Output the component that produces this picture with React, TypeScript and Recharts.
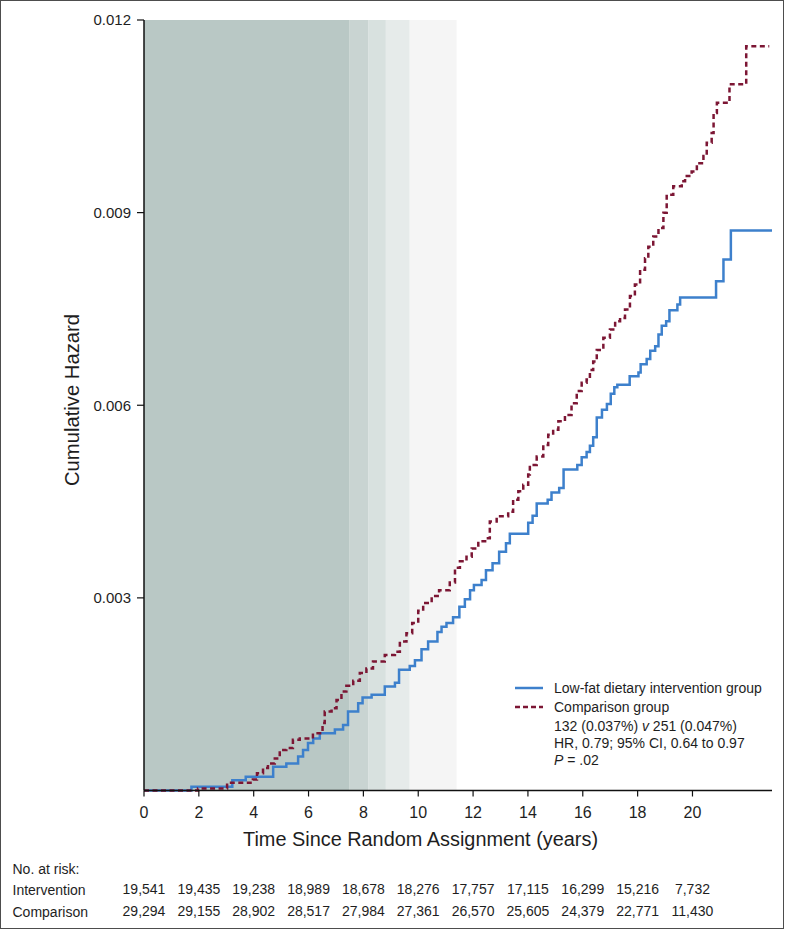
import React from 'react';
import { LineChart, Line, XAxis, YAxis, ReferenceArea, Legend } from 'recharts';

// ---- data ----
const interventionTimes = [0, 1.73, 3.22, 3.71, 4.71, 5.19, 5.62, 5.8, 5.98, 6.17, 6.41, 6.96, 7.26, 7.44, 7.81, 7.97, 8.3, 8.78, 9.15, 9.3, 9.69, 9.88, 10.12, 10.36, 10.7, 10.85, 11.03, 11.27, 11.5, 11.7, 11.89, 12.03, 12.31, 12.47, 12.71, 12.95, 13.2, 13.34, 14.01, 14.17, 14.32, 14.72, 14.86, 15.14, 15.3, 15.8, 15.96, 16.14, 16.26, 16.38, 16.51, 16.7, 16.88, 17.02, 17.15, 17.26, 17.71, 18.03, 18.11, 18.33, 18.46, 18.64, 18.76, 18.88, 19.04, 19.16, 19.45, 19.55, 20.86, 21.13, 21.4, 22.9];
const interventionHazard = [0, 0.00006, 0.00016, 0.000215, 0.00037, 0.00042, 0.00053, 0.00063, 0.00074, 0.00081, 0.00089, 0.00095, 0.00102, 0.00123, 0.00136, 0.00145, 0.00149, 0.00162, 0.00168, 0.00188, 0.00194, 0.00203, 0.0022, 0.00232, 0.00247, 0.00255, 0.00261, 0.0027, 0.00286, 0.00298, 0.00312, 0.0032, 0.00328, 0.00343, 0.00354, 0.00372, 0.00385, 0.004, 0.00417, 0.00428, 0.00447, 0.00453, 0.00464, 0.00471, 0.005, 0.00507, 0.00519, 0.00527, 0.00537, 0.0055, 0.00581, 0.00593, 0.00602, 0.00618, 0.00628, 0.00632, 0.00645, 0.00651, 0.00664, 0.00672, 0.00685, 0.00692, 0.0071, 0.00724, 0.00731, 0.00748, 0.00757, 0.00768, 0.00793, 0.00827, 0.00872, 0.00872];

const comparisonTimes = [0, 1.97, 3.03, 3.97, 4.12, 4.34, 4.52, 4.77, 4.95, 5.19, 5.43, 5.68, 6.16, 6.51, 6.59, 6.84, 7.02, 7.2, 7.38, 7.63, 7.87, 8.11, 8.35, 8.78, 9.15, 9.33, 9.57, 9.78, 10.0, 10.18, 10.49, 10.76, 11.15, 11.34, 11.52, 11.76, 11.95, 12.19, 12.49, 12.61, 12.86, 13.28, 13.46, 13.65, 13.83, 14.01, 14.07, 14.32, 14.56, 14.74, 14.92, 15.11, 15.35, 15.59, 15.78, 15.96, 16.14, 16.26, 16.38, 16.51, 16.75, 16.99, 17.18, 17.36, 17.54, 17.72, 17.9, 18.09, 18.27, 18.39, 18.57, 18.76, 18.94, 19.06, 19.3, 19.61, 19.73, 19.97, 20.16, 20.4, 20.52, 20.7, 20.77, 20.89, 21.35, 21.96, 22.8];
const comparisonHazard = [0, 0.00003, 0.00012, 0.00017, 0.00027, 0.00035, 0.00042, 0.0005, 0.00063, 0.00066, 0.00079, 0.00081, 0.00089, 0.00105, 0.00123, 0.00128, 0.00141, 0.00154, 0.00163, 0.00171, 0.00183, 0.0019, 0.00201, 0.00211, 0.00216, 0.00232, 0.00245, 0.00261, 0.0028, 0.00292, 0.00303, 0.00312, 0.00324, 0.00347, 0.00357, 0.00364, 0.00377, 0.00388, 0.00393, 0.00419, 0.00427, 0.00434, 0.00453, 0.00466, 0.00476, 0.00492, 0.00507, 0.0052, 0.00538, 0.00554, 0.00562, 0.00575, 0.00585, 0.00603, 0.00622, 0.00635, 0.0064, 0.00655, 0.00668, 0.00686, 0.00705, 0.00718, 0.00731, 0.00736, 0.00749, 0.0077, 0.00788, 0.00811, 0.00829, 0.00847, 0.00863, 0.00876, 0.009, 0.00928, 0.00941, 0.00949, 0.00957, 0.00964, 0.00977, 0.00988, 0.01009, 0.01024, 0.01055, 0.01071, 0.011, 0.01159, 0.01159];

const xTicks = [0, 2, 4, 6, 8, 10, 12, 14, 16, 18, 20];
const yTicks = [0.003, 0.006, 0.009, 0.012];
const interventionAtRisk = ['19,541', '19,435', '19,238', '18,989', '18,678', '18,276', '17,757', '17,115', '16,299', '15,216', '7,732'];
const comparisonAtRisk = ['29,294', '29,155', '28,902', '28,517', '27,984', '27,361', '26,570', '25,605', '24,379', '22,771', '11,430'];
const shadeStarts = [0, 7.5, 8.19, 8.82, 9.69];
const shadeEnds = [7.5, 8.19, 8.82, 9.69, 11.4];

const seriesNames = ['Low-fat dietary intervention group', 'Comparison group'];

// ---- styles ----
const FONT = '"Liberation Sans", Arial, Helvetica, sans-serif';
const shadeColors = ['#b9c8c5', '#c9d4d2', '#d8e1df', '#e6ebea', '#f5f5f5'];
const BLUE = '#3d80cc';
const RED = '#7c1634';
const TEXT = '#1e1e1e';

const interventionData = interventionTimes.map((t, i) => ({ t, h: interventionHazard[i] }));
const comparisonData = comparisonTimes.map((t, i) => ({ t, h: comparisonHazard[i] }));

const XTick = (props: any) => {
  const { x, y, payload } = props;
  const idx = xTicks.indexOf(payload.value);
  return (
    <g fontFamily={FONT} fill={TEXT}>
      <text x={x} y={y} dy={19} textAnchor="middle" fontSize={16}>{payload.value}</text>
      <text x={x} y={y} dy={95} textAnchor="middle" fontSize={14}>{interventionAtRisk[idx]}</text>
      <text x={x} y={y} dy={117} textAnchor="middle" fontSize={14}>{comparisonAtRisk[idx]}</text>
    </g>
  );
};

const XLabel = (props: any) => {
  const { viewBox } = props;
  const y = viewBox.y;
  return (
    <g fontFamily={FONT} fill={TEXT}>
      <text x={420.5} y={y + 55} textAnchor="middle" fontSize={20} textLength={355} lengthAdjust="spacingAndGlyphs">
        Time Since Random Assignment (years)
      </text>
      <text x={12.5} y={y + 83} fontSize={14}>No. at risk:</text>
      <text x={12.5} y={y + 104} fontSize={14}>Intervention</text>
      <text x={12.5} y={y + 126} fontSize={14}>Comparison</text>
    </g>
  );
};

const YLabel = (props: any) => {
  const { viewBox } = props;
  const cx = viewBox.x - 12;
  const cy = 400;
  return (
    <text
      x={cx}
      y={cy}
      transform={`rotate(-90 ${cx} ${cy})`}
      textAnchor="middle"
      dominantBaseline="central"
      fontFamily={FONT}
      fontSize={20}
      fill={TEXT}
      textLength={172}
      lengthAdjust="spacingAndGlyphs"
    >
      Cumulative Hazard
    </text>
  );
};

const LegendContent = () => (
  <div style={{ fontFamily: FONT, fontSize: 14, color: TEXT, lineHeight: '19px', whiteSpace: 'nowrap' }}>
    <div style={{ display: 'flex', alignItems: 'center' }}>
      <svg width={28} height={4} style={{ marginRight: 11 }}>
        <line x1={0} y1={2} x2={28} y2={2} stroke={BLUE} strokeWidth={2.5} />
      </svg>
      <span>{seriesNames[0]}</span>
    </div>
    <div style={{ display: 'flex', alignItems: 'center' }}>
      <svg width={28} height={4} style={{ marginRight: 11 }}>
        <line x1={0} y1={2} x2={28} y2={2} stroke={RED} strokeWidth={2.5} strokeDasharray="5 3" />
      </svg>
      <span>{seriesNames[1]}</span>
    </div>
    <div style={{ marginLeft: 39, marginTop: 1, lineHeight: '17px' }}>
      <div>132 (0.037%) <i>v</i> 251 (0.047%)</div>
      <div>HR, 0.79; 95% CI, 0.64 to 0.97</div>
      <div><i>P</i> = .02</div>
    </div>
  </div>
);

export default function App() {
  return (
    <div style={{ position: 'absolute', left: 0, top: 0, width: 785, height: 929, background: '#fff' }}>
      <div
        style={{
          position: 'absolute',
          left: 0,
          top: 0,
          width: 784,
          height: 929,
          boxSizing: 'border-box',
          border: '1.5px solid #4d4d4d',
          pointerEvents: 'none',
          zIndex: 2,
        }}
      />
      <LineChart width={785} height={929} margin={{ top: 20, right: 13, bottom: 108.5, left: 84 }}>
        {shadeStarts.map((s, i) => (
          <ReferenceArea
            key={i}
            x1={s}
            x2={shadeEnds[i]}
            y1={0}
            y2={0.012}
            fill={shadeColors[i]}
            fillOpacity={1}
            stroke="none"
            ifOverflow="visible"
          />
        ))}
        <XAxis
          dataKey="t"
          type="number"
          domain={[0, 22.9]}
          ticks={xTicks}
          allowDataOverflow
          height={30}
          tickSize={6}
          tickMargin={2}
          axisLine={{ stroke: '#111', strokeWidth: 1.5 }}
          tickLine={{ stroke: '#111', strokeWidth: 1.2 }}
          tick={<XTick />}
          interval={0}
          label={<XLabel />}
        />
        <YAxis
          type="number"
          domain={[0, 0.012]}
          ticks={yTicks}
          width={60}
          tickSize={7}
          tickMargin={6}
          axisLine={{ stroke: '#111', strokeWidth: 1.5 }}
          tickLine={{ stroke: '#111', strokeWidth: 1.2 }}
          tick={{ fontSize: 15, fill: TEXT, fontFamily: FONT }}
          tickFormatter={(v: number) => v.toFixed(3)}
          interval={0}
          label={<YLabel />}
        />
        <Legend
          layout="horizontal"
          verticalAlign="middle"
          align="center"
          content={<LegendContent />}
          wrapperStyle={{ left: 515, top: 678.5, width: 265 }}
        />
        <Line
          data={interventionData}
          dataKey="h"
          name={seriesNames[0]}
          type="stepAfter"
          stroke={BLUE}
          strokeWidth={2.5}
          dot={false}
          isAnimationActive={false}
        />
        <Line
          data={comparisonData}
          dataKey="h"
          name={seriesNames[1]}
          type="stepAfter"
          stroke={RED}
          strokeWidth={2.5}
          strokeDasharray="5 3.5"
          dot={false}
          isAnimationActive={false}
        />
      </LineChart>
    </div>
  );
}
